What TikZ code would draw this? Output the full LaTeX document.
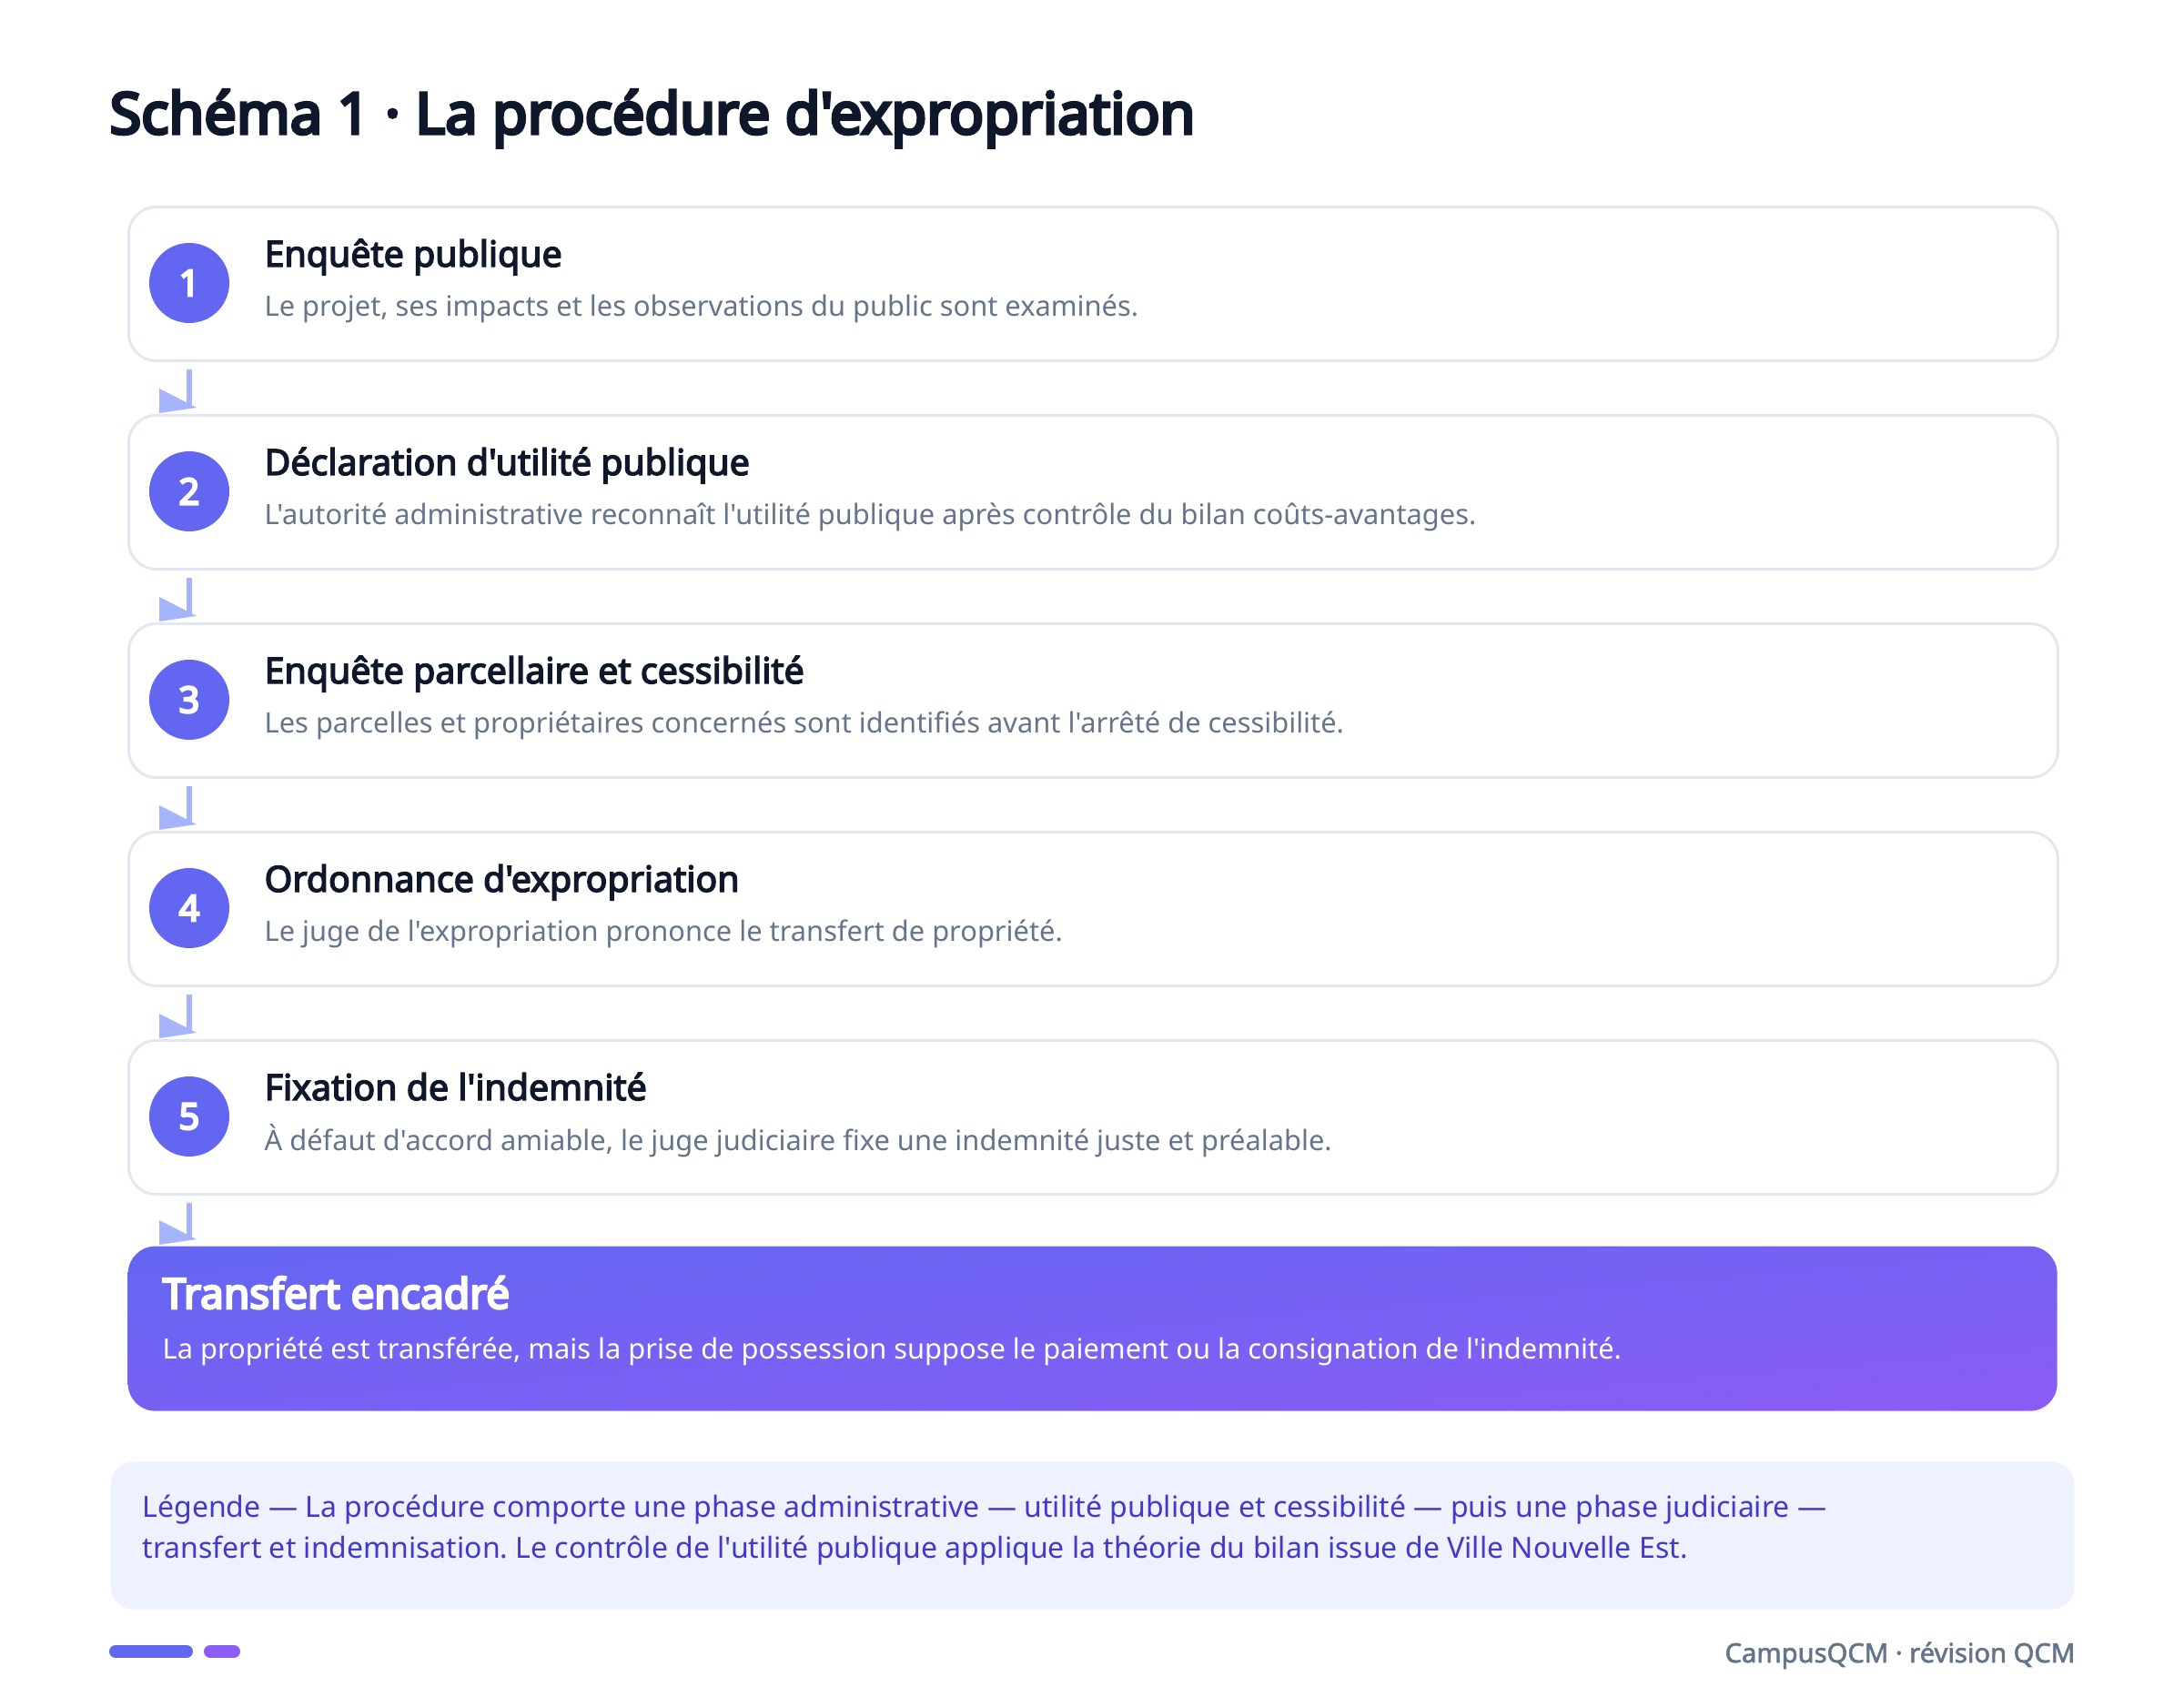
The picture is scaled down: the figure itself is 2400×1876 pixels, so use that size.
\documentclass[tikz,border=0pt]{standalone}
\usepackage{fontspec}
\newfontfamily\nsans{Noto Sans}
\newfontfamily\nsemi{Noto Sans}[FakeBold=2]
\newfontfamily\nbold{Noto Sans}[FakeBold=3.6]
\newfontfamily\nheavy{Noto Sans}[FakeBold=5.5]
\usetikzlibrary{calc}
\definecolor{ink}{HTML}{0F172A}
\definecolor{slate}{HTML}{64748B}
\definecolor{border}{HTML}{E2E8F0}
\definecolor{indigo}{HTML}{6366F1}
\definecolor{violet}{HTML}{8B5CF6}
\definecolor{arrowc}{HTML}{A5B4FC}
\definecolor{legbg}{HTML}{EEF2FF}
\definecolor{legink}{HTML}{4338CA}
\pgfdeclarefunctionalshading{findiag}{\pgfpoint{-50bp}{-50bp}}{\pgfpoint{50bp}{50bp}}{}{
  sub 50 add 100 div
  dup 0.157 mul 0.388 add exch
  dup -0.039 mul 0.4 add exch
  0.02 mul 0.945 add
}
\newcommand\steparrow[2]{%
  \draw[arrline] ($(#1.south -| n1)+(0,8)$) -- ($(#2.north -| n1)+(0,-9)$);
  \fill[arrfill] ($(#2.north -| n1)+(-33,-28)$) -- ($(#2.north -| n1)+(-33,-1)$) -- ($(#2.north -| n1)+(8,-7)$) -- cycle;}
\frenchspacing
\begin{document}
\begin{tikzpicture}[x=0.3pt,y=-0.3pt,
  stepbox/.style={draw=border, line width=0.9pt, fill=white, rounded corners=9pt, minimum width=636pt, minimum height=50.7pt, inner sep=0pt},
  numcirc/.style={circle, fill=indigo, minimum size=26.4pt, inner sep=0pt, text=white, font=\nheavy\fontsize{12}{12}\selectfont},
  steptitle/.style={anchor=base west, inner sep=0pt, text=ink, font=\nbold\fontsize{11.8}{13}\selectfont},
  stepsub/.style={anchor=base west, inner sep=0pt, text=slate, font=\nsans\fontsize{9.25}{11}\selectfont},
  finbox/.style={rounded corners=9pt, minimum width=636pt, minimum height=54.3pt, inner sep=0pt, shade, shading=findiag},
  fintitle/.style={anchor=base west, inner sep=0pt, text=white, font=\nheavy\fontsize{13.8}{15}\selectfont},
  finsub/.style={anchor=base west, inner sep=0pt, text=white, font=\nsans\fontsize{9.25}{11}\selectfont},
  legbox/.style={fill=legbg, rounded corners=7.5pt, minimum width=647.4pt, minimum height=48.6pt, inner sep=0pt},
  legtext/.style={anchor=base west, inner sep=0pt, text=legink, font=\nsans\fontsize{9.6}{12}\selectfont},
  footer/.style={anchor=base east, inner sep=0pt, text=slate, font=\nsemi\fontsize{8.75}{10}\selectfont},
  arrline/.style={draw=arrowc, line width=1.8pt},
  arrfill/.style={fill=arrowc},
  bar/.style={line width=4.2pt, line cap=round}
]
\useasboundingbox[fill=white] (0,0) rectangle (2400,1876);
\node[anchor=base west, inner sep=0pt, text=ink, font=\nheavy\fontsize{18.9}{20}\selectfont] (title) at (120,147) {Schéma 1 · La procédure d'expropriation};
\foreach \i/\ti/\su in {
  1/{Enquête publique}/{Le projet, ses impacts et les observations du public sont examinés.},
  2/{Déclaration d'utilité publique}/{L'autorité administrative reconnaît l'utilité publique après contrôle du bilan coûts-avantages.},
  3/{Enquête parcellaire et cessibilité}/{Les parcelles et propriétaires concernés sont identifiés avant l'arrêté de cessibilité.},
  4/{Ordonnance d'expropriation}/{Le juge de l'expropriation prononce le transfert de propriété.},
  5/{Fixation de l'indemnité}/{À défaut d'accord amiable, le juge judiciaire fixe une indemnité juste et préalable.}}{
  \pgfmathsetmacro\ytop{226+229*(\i-1)}
  \node[stepbox, anchor=north west] (b\i) at (140,\ytop) {};
  \node[numcirc] (n\i) at (208,\ytop+85) {\i};
  \node[steptitle] (t\i) at (290,\ytop+67) {\ti};
  \node[stepsub] (s\i) at (290,\ytop+122) {\su};
}
\node[finbox, anchor=north west] (fin) at (140,1369) {};
\node[fintitle] (ft) at (178,1438) {Transfert encadré};
\node[finsub] (fs) at (178,1493) {La propriété est transférée, mais la prise de possession suppose le paiement ou la consignation de l'indemnité.};
\foreach \a/\b in {b1/b2,b2/b3,b3/b4,b4/b5,b5/fin}{\steparrow{\a}{\b}}
\node[legbox, anchor=north west] (leg) at (121,1606) {};
\node[legtext] (l1) at (156,1667) {Légende — La procédure comporte une phase administrative — utilité publique et cessibilité — puis une phase judiciaire —};
\node[legtext] (l2) at (156,1712) {transfert et indemnisation. Le contrôle de l'utilité publique applique la théorie du bilan issue de Ville Nouvelle Est.};
\draw[bar, indigo] (127,1815) -- (205,1815);
\draw[bar, violet] (231,1815) -- (257,1815);
\node[footer] (foot) at (2281,1827) {CampusQCM · révision QCM};
\end{tikzpicture}
\end{document}
